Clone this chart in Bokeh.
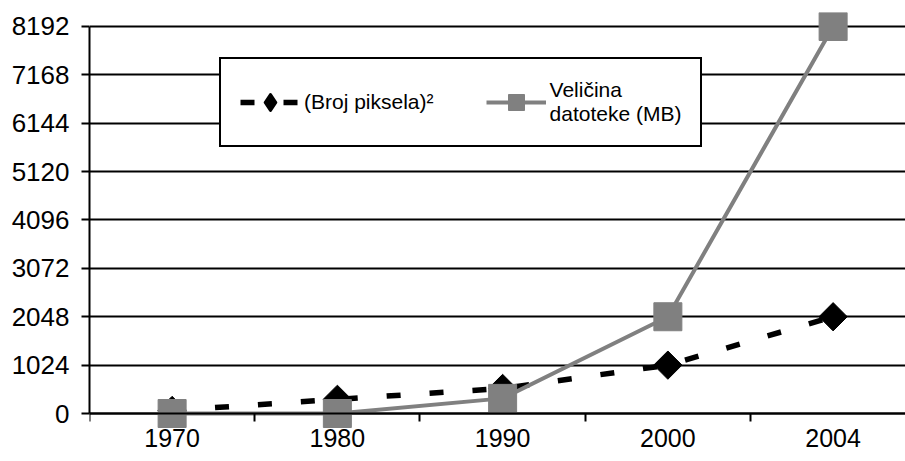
import numpy as np
from bokeh.plotting import figure
from bokeh.models import (ColumnDataSource, FixedTicker, Range1d, Legend, LegendItem)
from bokeh.embed import file_html
from bokeh.resources import INLINE

# ---- data ----
years = ["1970", "1980", "1990", "2000", "2004"]
pixels_sq = [64, 300, 530, 1024, 2048]        # (Broj piksela)^2
file_size = [0, 0, 320, 2048, 8192]           # Veličina datoteke (MB)
y_ticks = [0, 1024, 2048, 3072, 4096, 5120, 6144, 7168, 8192]

FONT = "Liberation Sans"

idx = list(range(len(years)))
src = ColumnDataSource(data=dict(x=idx, px=pixels_sq, fs=file_size))

p = figure(width=905, height=461, output_backend="svg", toolbar_location=None,
           x_range=Range1d(-0.5, 4.438), y_range=Range1d(-1016, 8488),
           min_border_left=89, min_border_right=0, min_border_top=12,
           min_border_bottom=0)
p.outline_line_color = None
p.background_fill_color = "white"
p.border_fill_color = "white"

# series 1: dashed black with diamonds
r1l = p.line("x", "px", source=src, line_color="black", line_width=5.5,
             line_dash="14 29")
# diamond key (used by the legend; in the plot it sits inside the larger marker)
r1k = p.scatter("x", "px", source=src, marker="diamond", size=12,
                fill_color="black", line_color="black", line_width=3,
                line_join="round")
r1m = p.scatter("x", "px", source=src, marker="square", angle=np.pi / 4,
                size=20, fill_color="black", line_color="black")
# series 2: gray line with squares
r2l = p.line("x", "fs", source=src, line_color="#808080", line_width=4)
r2m = p.scatter("x", "fs", source=src, marker="square", size=28,
                fill_color="#808080", line_color="#808080")

# axes
yt = FixedTicker(ticks=y_ticks)
p.yaxis.ticker = yt
p.yaxis.bounds = (0, 8192)
p.yaxis.axis_line_width = 2
p.yaxis.axis_line_color = "black"
p.yaxis.major_tick_line_width = 2
p.yaxis.major_tick_out = 8
p.yaxis.major_tick_in = 0
p.yaxis.minor_tick_line_color = None
p.yaxis.major_label_text_font = FONT
p.yaxis.major_label_text_font_size = "26px"
p.yaxis.major_label_text_color = "black"
p.yaxis.major_label_standoff = 12

xt = FixedTicker(ticks=idx, minor_ticks=[i - 0.5 for i in idx])
p.xaxis.ticker = xt
p.xaxis.fixed_location = 0
p.xaxis.major_label_overrides = {i: y for i, y in zip(idx, years)}
p.xaxis.axis_line_width = 2
p.xaxis.axis_line_color = "black"
p.xaxis.major_tick_out = 0
p.xaxis.major_tick_in = 0
p.xaxis.minor_tick_out = 8
p.xaxis.minor_tick_in = 0
p.xaxis.minor_tick_line_width = 2
p.xaxis.minor_tick_line_color = "black"
p.xaxis.major_label_text_font = FONT
p.xaxis.major_label_text_font_size = "25px"
p.xaxis.major_label_text_color = "black"
p.xaxis.major_label_standoff = 7

p.xgrid.visible = False
p.ygrid.ticker = yt
p.ygrid.grid_line_color = "black"
p.ygrid.grid_line_width = 2
p.ygrid.grid_line_alpha = 1

legend = Legend(items=[
    LegendItem(label="(Broj piksela)²", renderers=[r1l, r1k]),
    LegendItem(label="Veličina\ndatoteke (MB)", renderers=[r2l, r2m]),
], orientation="horizontal", location=(130, 314))
legend.margin = 0
legend.padding = 19
legend.spacing = 52
legend.glyph_width = 60
legend.glyph_height = 40
legend.label_standoff = 4
legend.label_text_font = FONT
legend.label_text_font_size = "21px"
legend.label_text_color = "black"
legend.border_line_color = "black"
legend.border_line_width = 2
legend.border_line_alpha = 1
legend.background_fill_alpha = 1
legend.background_fill_color = "white"
p.add_layout(legend, "center")

open("out.html", "w").write(file_html(p, INLINE))
